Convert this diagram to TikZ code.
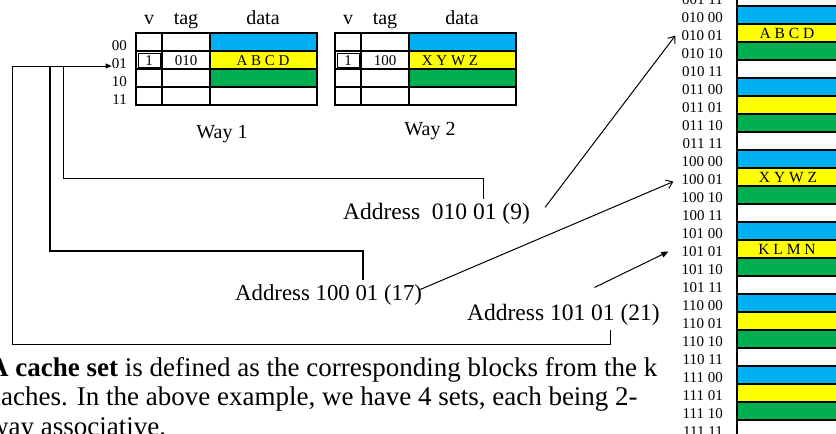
\documentclass[tikz,border=0pt]{standalone}
\usepackage{fontspec}
\setmainfont{Liberation Serif}
\usetikzlibrary{arrows.meta,positioning}

\definecolor{cblue}{HTML}{00B0F0}
\definecolor{cyellow}{HTML}{FFFF00}
\definecolor{cgreen}{HTML}{00B050}

\tikzset{
  cell/.style={draw=black,line width=1.1pt},
  memcell/.style={draw=black,line width=1.3pt},
  lbl/.style={inner sep=0pt,font=\fontsize{15}{18}\selectfont},
  head/.style={inner sep=0pt,font=\fontsize{20}{24}\selectfont},
  big/.style={inner sep=0pt,font=\fontsize{23.5}{30}\selectfont},
  wire/.style={line width=1pt},
  openarr/.style={line width=1pt,-{Straight Barb[length=6pt,width=9pt]}},
  fillarr/.style={line width=1pt,-{Triangle[length=7pt,width=6pt]}}
}

\begin{document}
\begin{tikzpicture}[x=1pt,y=-1pt]
\useasboundingbox (0,0) rectangle (836,434);
\clip (0,0) rectangle (836,434);

% main memory, one block per row
\foreach \lab [count=\i from 7] in {001 11,010 00,010 01,010 10,010 11,011 00,011 01,011 10,011 11,100 00,100 01,100 10,100 11,101 00,101 01,101 10,101 11,110 00,110 01,110 10,110 11,111 00,111 01,111 10,111 11} {
  \pgfmathtruncatemacro\k{mod(\i,4)}
  \ifcase\k\def\rowcol{cblue}\or\def\rowcol{cyellow}\or\def\rowcol{cgreen}\else\def\rowcol{white}\fi
  \pgfmathsetmacro\ytop{18*\i-138}
  \draw[memcell,fill=\rowcol] (737,\ytop) rectangle (850,\ytop+18);
  \node[lbl,anchor=base east] (m\i) at (723,\ytop+16.5) {\lab};
}
\node[lbl,anchor=base,font=\fontsize{15.5}{18}\selectfont] (md9) at (787,38.3) {A B C D};
\node[lbl,anchor=base,font=\fontsize{15.5}{18}\selectfont] (md17) at (788,182.3) {X Y W Z};
\node[lbl,anchor=base,font=\fontsize{15.5}{18}\selectfont] (md21) at (787,254.3) {K L M N};

% the two ways of the cache
\foreach \wx/\wn in {136/1,335/2} {
  \foreach \r in {0,...,3} {
    \pgfmathsetmacro\ry{33+18*\r}
    \ifcase\r\def\rowcol{cblue}\or\def\rowcol{cyellow}\or\def\rowcol{cgreen}\else\def\rowcol{white}\fi
    \draw[cell] (\wx,\ry) rectangle ++(26,18);
    \draw[cell] (\wx+26,\ry) rectangle ++(48,18);
    \draw[cell,fill=\rowcol] (\wx+74,\ry) rectangle ++(107,18);
  }
  \draw[line width=0.8pt] (\wx+2,53) rectangle (\wx+24,67);
  \node[head,anchor=base] (hv\wn) at (\wx+13,24) {v};
  \node[head,anchor=base] (ht\wn) at (\wx+50,24) {tag};
  \node[head,anchor=base] (hd\wn) at (\wx+127,24) {data};
  \node[lbl,anchor=base] (v\wn) at (\wx+13,65.3) {1};
}
\node[lbl,anchor=base] (t1) at (186,65.3) {010};
\node[lbl,anchor=base] (d1) at (263,65.3) {A B C D};
\node[lbl,anchor=base] (t2) at (385,65.3) {100};
\node[lbl,anchor=base] (d2) at (450,65.3) {X Y W Z};
\node[head,anchor=base] (way1) at (222,138) {Way 1};
\node[head,anchor=base] (way2) at (430,135) {Way 2};

% set index labels
\foreach \lab [count=\r from 0] in {00,01,10,11}
  \node[lbl,anchor=base east] (r\lab) at (127,50+18*\r) {\lab};

% addresses
\node[big,anchor=base west] (a9) at (343,219) {Address\ \ 010 01 (9)};
\node[big,anchor=base west,font=\fontsize{22.8}{30}\selectfont] (a17) at (235,300) {Address 100 01 (17)};
\node[big,anchor=base west] (a21) at (467,320) {Address 101 01 (21)};

% index bits of each address lead to the set
\coordinate (tap) at (12,66);
\coordinate (s9) at (483,199);
\coordinate (s17) at (363,280);
\coordinate (s21) at (610,330);
\draw[wire,-{Triangle[length=6pt,width=5pt]}] (tap) -- (tap -| r01.west);
\draw[wire] (63,66) -- (63,178) -- (483,178) -- (s9);
\draw[line width=1.6pt] (50,66) -- (50,251) -- (363,251) -- (s17);
\draw[wire] (tap) -- (12,344) -- (610,344) -- (s21);

% addresses into memory
\draw[openarr] ([xshift=15pt,yshift=6pt]a9.east) -- ([xshift=-6pt]m9.west);
\draw[openarr] ([xshift=-2pt,yshift=5pt]a17.east) -- ([xshift=-8pt,yshift=-2pt]m17.west);
\draw[fillarr] ([xshift=31pt,yshift=16pt]a21.north) -- ([xshift=-13pt]m21.west);

% base of a multi-line node is its last line
\node[big,anchor=base west,align=left,font=\fontsize{27}{29.5}\selectfont] (note) at (-11,435) {\textbf{A cache set} is defined as the corresponding blocks from the k\\caches. In the above example, we have 4 sets, each being 2-\\way associative.};
\end{tikzpicture}
\end{document}
